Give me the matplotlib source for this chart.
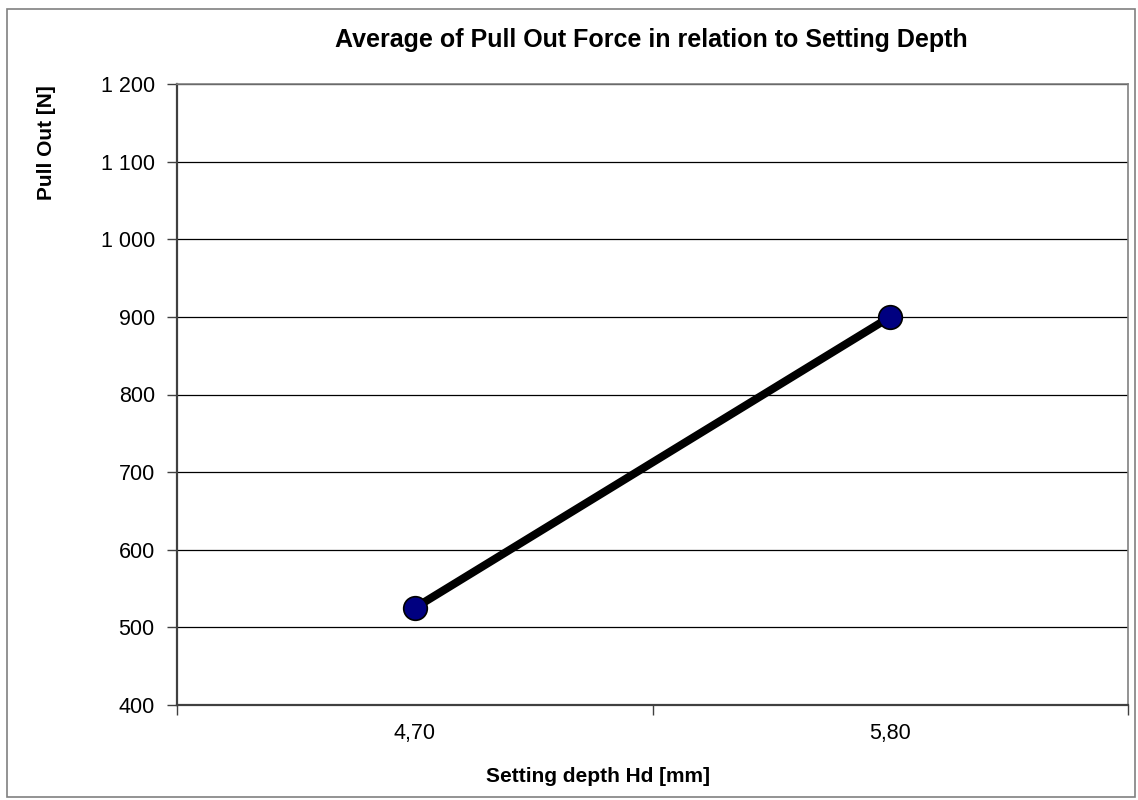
import matplotlib
matplotlib.use('Agg')
import matplotlib.pyplot as plt
from matplotlib.patches import Rectangle

categories = ['4,70', '5,80']
pull_out = [525, 900]
y_ticks = [400, 500, 600, 700, 800, 900, 1000, 1100, 1200]
y_tick_labels = ['400', '500', '600', '700', '800', '900', '1 000', '1 100', '1 200']

plt.rcParams['font.family'] = ['Liberation Sans', 'DejaVu Sans']

fig = plt.figure(figsize=(11.38, 8), dpi=100)
ax = fig.add_axes([177 / 1138, 95 / 800, 951 / 1138, 621 / 800])

# outer chart border
fig.patches.append(Rectangle((7 / 1138, 3 / 800), 1128 / 1138, 788 / 800,
                             transform=fig.transFigure, fill=False,
                             edgecolor='#808080', linewidth=1.2))

xs = [i + 0.5 for i in range(len(categories))]
ax.plot(xs, pull_out, color='black', linewidth=5.8, solid_capstyle='butt',
        marker='o', markersize=17, markerfacecolor='#000080',
        markeredgecolor='black', markeredgewidth=1.2, zorder=3)

ax.set_xlim(0, len(categories))
ax.set_ylim(400, 1200)
ax.set_yticks(y_ticks)
ax.set_yticklabels(y_tick_labels)
ax.set_xticks(range(len(categories) + 1))
ax.set_xticklabels([])
ax.set_xticks(xs, minor=True)
ax.set_xticklabels(categories, minor=True)
ax.tick_params(axis='x', which='minor', length=0, pad=13, labelsize=15.5)
ax.tick_params(axis='x', which='major', length=7, width=1, direction='out', color='#404040')
ax.tick_params(axis='y', length=7, width=1, direction='out', pad=9, labelsize=15.5, color='#404040')
ax.grid(axis='y', color='black', linewidth=0.9)
ax.set_axisbelow(True)

for side in ['top', 'right']:
    ax.spines[side].set_color('#808080')
    ax.spines[side].set_linewidth(1.2)
for side in ['left', 'bottom']:
    ax.spines[side].set_color('#404040')
    ax.spines[side].set_linewidth(1.6)

fig.text(651 / 1138, 1 - 40 / 800, 'Average of Pull Out Force in relation to Setting Depth',
         ha='center', va='center', fontsize=18, fontweight='bold')
fig.text(598 / 1138, 1 - 776 / 800, 'Setting depth Hd [mm]',
         ha='center', va='center', fontsize=15, fontweight='bold')
fig.text(47 / 1138, 1 - 143 / 800, 'Pull Out [N]', rotation=90,
         ha='center', va='center', fontsize=15, fontweight='bold')

fig.savefig('out.png', dpi=100)
